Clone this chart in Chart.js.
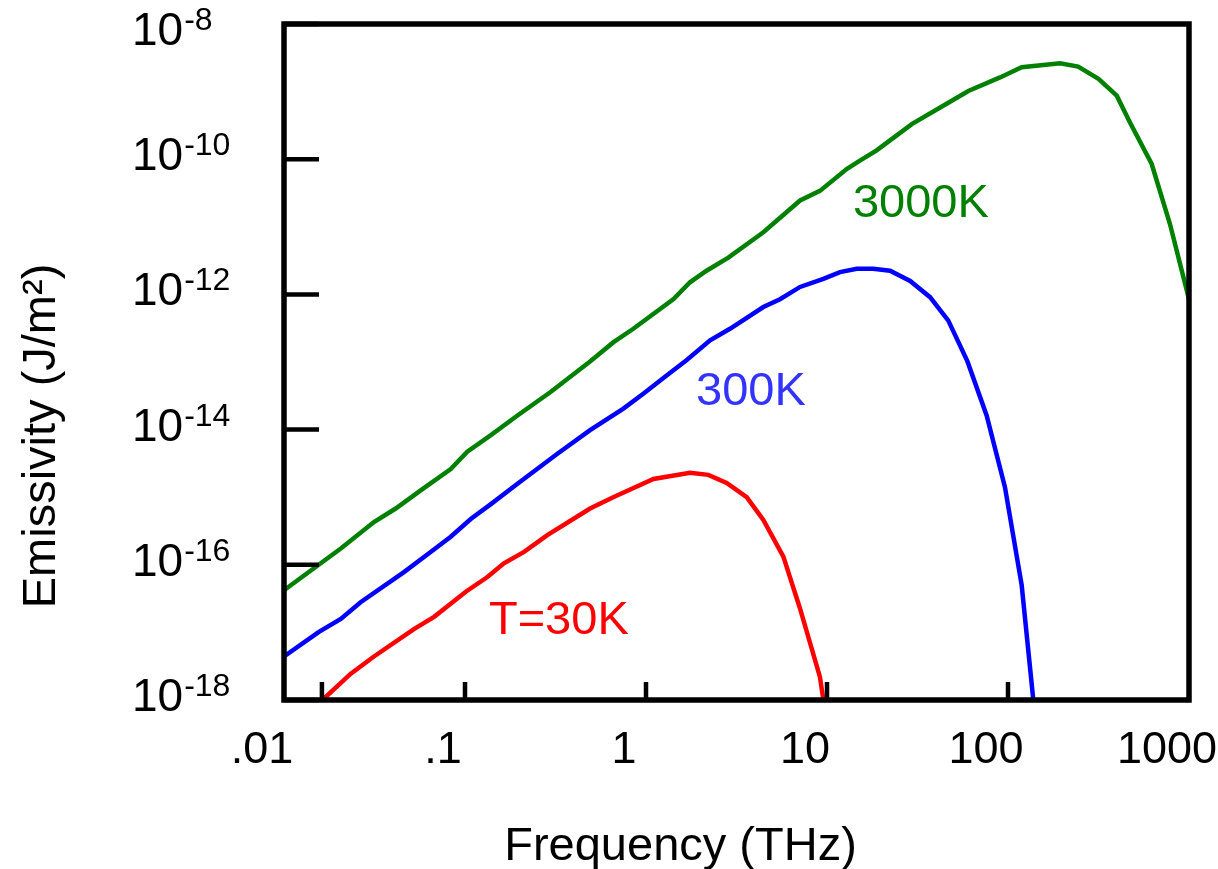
<!DOCTYPE html>
<html>
<head>
<meta charset="utf-8">
<title>Blackbody emissivity</title>
<script src="https://cdn.jsdelivr.net/npm/chart.js@4.4.1/dist/chart.umd.min.js"></script>
<style>
  html, body { margin: 0; padding: 0; background: #fff; }
  #wrap { width: 1218px; height: 869px; }
</style>
</head>
<body>
<div id="wrap"><canvas id="chart" width="1218" height="869"></canvas></div>
<script>
const FONT = '"Liberation Sans", Arial, sans-serif';

// frequency (THz) and emissivity (J/m^2)
const freq3000 = [0.01, 0.0206, 0.0314, 0.0414, 0.0569, 0.0834, 0.103, 0.139, 0.195, 0.297,
  0.491, 0.659, 0.851, 1.42, 1.75, 2.16, 2.85, 4.45, 7.10, 9.14,
  12.9, 15.2, 18.8, 22.3, 29.4, 45.8, 60.4, 90.4, 119, 194,
  244, 316, 399, 472, 622, 785, 1000];
const emis3000 = [4.2e-17, 1.74e-16, 4.3e-16, 6.8e-16, 1.26e-15, 2.6e-15, 4.7e-15, 8.3e-15, 1.62e-14, 3.6e-14,
  1.02e-13, 1.95e-13, 3.1e-13, 8.5e-13, 1.51e-12, 2.24e-12, 3.5e-12, 8.3e-12, 2.45e-11, 3.4e-11,
  7.2e-11, 9.5e-11, 1.35e-10, 1.9e-10, 3.3e-10, 6.6e-10, 1.02e-9, 1.62e-9, 2.29e-9, 2.63e-9,
  2.34e-9, 1.55e-9, 8.7e-10, 3.5e-10, 8.5e-11, 1.1e-11, 8.5e-13];

const freq300 = [0.01, 0.0156, 0.0206, 0.0265, 0.046, 0.0646, 0.0834, 0.108, 0.139, 0.195,
  0.324, 0.491, 0.75, 0.966, 1.30, 1.68, 2.26, 2.91, 4.45, 5.50,
  7.10, 9.55, 11.8, 14.6, 18.0, 22.3, 28.8, 37.1, 46.8, 59.7,
  76.2, 96.2, 119, 138];
const emis300 = [4.4e-18, 1.02e-17, 1.58e-17, 2.8e-17, 7.8e-17, 1.55e-16, 2.6e-16, 4.8e-16, 7.9e-16, 1.58e-15,
  4.4e-15, 9.8e-15, 2.04e-14, 3.4e-14, 6.3e-14, 1.07e-13, 2.09e-13, 3.1e-13, 6.5e-13, 8.5e-13,
  1.29e-12, 1.70e-12, 2.14e-12, 2.4e-12, 2.4e-12, 2.24e-12, 1.58e-12, 9.1e-13, 4.1e-13, 1.02e-13,
  1.62e-14, 1.41e-15, 5.0e-17, 1.0e-18];

const freq30 = [0.0163, 0.0234, 0.0314, 0.0522, 0.0675, 0.101, 0.133, 0.164, 0.212, 0.285,
  0.491, 0.659, 1.10, 1.75, 2.21, 2.79, 3.60, 4.45, 5.74, 7.10,
  9.14, 9.55];
const emis30 = [1.0e-18, 2.45e-18, 4.4e-18, 1.12e-17, 1.70e-17, 4.0e-17, 6.6e-17, 1.05e-16, 1.55e-16, 2.75e-16,
  6.8e-16, 1.0e-15, 1.86e-15, 2.29e-15, 2.14e-15, 1.62e-15, 1.0e-15, 4.6e-16, 1.32e-16, 2.24e-17,
  2.19e-18, 1.0e-18];

const xTickValues = [0.01, 0.1, 1, 10, 100, 1000];
const xTickLabels = ['.01', '.1', '1', '10', '100', '1000'];
const xTickMarks = [0.0162, 0.1, 1, 10, 100];
const yTickValues = [1e-8, 1e-10, 1e-12, 1e-14, 1e-16, 1e-18];
const yTickExponents = ['-8', '-10', '-12', '-14', '-16', '-18'];

const curveNames = ['3000K', '300K', 'T=30K'];
const curveColors = ['#008000', '#0000ff', '#ff0000'];
const labelColors = ['#008000', '#3333ff', '#ff0000'];
// where each curve name sits, in data units
const labelFreq = [33, 3.8, 0.33];
const labelEmis = [1.4e-11, 2.3e-14, 9.5e-18];

function points(xs, ys) {
  return xs.map((v, i) => ({ x: v, y: ys[i] }));
}

const decorations = {
  id: 'decorations',
  afterDatasetsDraw(chart) {
    const { ctx, chartArea: a, scales: { x, y } } = chart;
    ctx.save();

    ctx.strokeStyle = '#000';
    ctx.lineWidth = 4.5;
    ctx.beginPath();
    xTickMarks.forEach((v) => {
      const px = x.getPixelForValue(v);
      ctx.moveTo(px, a.bottom);
      ctx.lineTo(px, a.bottom - 18);
    });
    yTickValues.forEach((v) => {
      const py = y.getPixelForValue(v);
      ctx.moveTo(a.left, py);
      ctx.lineTo(a.left + 35, py);
    });
    ctx.stroke();

    ctx.lineWidth = 5.5;
    ctx.lineJoin = 'miter';
    ctx.strokeRect(a.left, a.top, a.right - a.left, a.bottom - a.top);

    // y tick labels with superscript exponents
    ctx.fillStyle = '#000';
    ctx.textAlign = 'left';
    ctx.textBaseline = 'alphabetic';
    yTickValues.forEach((v, i) => {
      const base = Math.max(y.getPixelForValue(v) + 11, 45);
      ctx.font = `46px ${FONT}`;
      ctx.fillText('10', 132, base);
      const w = ctx.measureText('10').width;
      ctx.font = `32px ${FONT}`;
      ctx.fillText(yTickExponents[i], 132 + w + 1, base - 15);
    });

    // axis titles
    ctx.font = `47px ${FONT}`;
    ctx.textAlign = 'center';
    ctx.fillText('Frequency (THz)', (a.left + a.right) / 2 - 56, a.bottom + 160);
    ctx.save();
    ctx.translate(55, (a.top + a.bottom) / 2 + 74);
    ctx.rotate(-Math.PI / 2);
    ctx.fillText('Emissivity (J/m\u00B2)', 0, 0);
    ctx.restore();

    // curve names
    curveNames.forEach((name, i) => {
      ctx.fillStyle = labelColors[i];
      ctx.fillText(name, x.getPixelForValue(labelFreq[i]), y.getPixelForValue(labelEmis[i]));
    });

    ctx.restore();
  },
};

const series = [
  { label: '3000K', data: points(freq3000, emis3000) },
  { label: '300K', data: points(freq300, emis300) },
  { label: '30K', data: points(freq30, emis30) },
];

new Chart(document.getElementById('chart'), {
  type: 'line',
  data: {
    datasets: series.map((s, i) => ({
      label: s.label,
      data: s.data,
      borderColor: curveColors[i],
      borderWidth: 4.5,
      pointRadius: 0,
      tension: 0,
      fill: false,
    })),
  },
  options: {
    responsive: false,
    animation: false,
    devicePixelRatio: 1,
    layout: { padding: { left: 284, top: 24, right: 29, bottom: 0 } },
    plugins: {
      legend: { display: false },
      tooltip: { enabled: false },
    },
    scales: {
      x: {
        type: 'logarithmic',
        min: 0.01,
        max: 1000,
        afterBuildTicks: (s) => { s.ticks = xTickValues.map((v) => ({ value: v })); },
        afterFit: (s) => { s.paddingLeft = 0; s.paddingRight = 0; s.height = 169; },
        grid: { display: false },
        border: { display: false },
        ticks: {
          font: { family: FONT, size: 45 },
          color: '#000',
          padding: 16,
          labelOffset: -22,
          maxRotation: 0,
          autoSkip: false,
          callback: (v, i) => xTickLabels[i],
        },
      },
      y: {
        type: 'logarithmic',
        min: 1e-18,
        max: 1e-8,
        display: false,
      },
    },
  },
  plugins: [decorations],
});
</script>
</body>
</html>
